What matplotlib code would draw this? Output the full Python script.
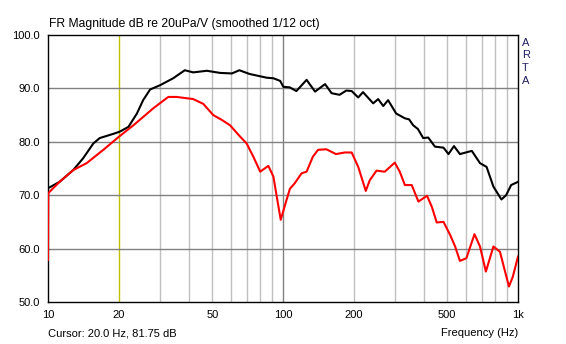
import numpy as np
import matplotlib.pyplot as plt
from matplotlib.ticker import FixedLocator, NullFormatter

plt.rcParams['font.family'] = ['Liberation Sans', 'DejaVu Sans']
plt.rcParams['font.size'] = 8

# black curve (Hz, dB)
f_black = [10, 11.2, 12.8, 14.1, 15.6, 16.6, 19.0, 20.2, 22.0, 23.9, 25.4, 27.2,
           30.0, 34.1, 36.5, 38.2, 41.5, 47.4, 54.0, 60.6, 65.2, 72.1, 85.3, 91.0,
           97.3, 100.3, 106.8, 114, 126, 136.9, 151, 161, 174, 186, 196, 209, 219,
           242, 254, 267, 280, 303, 330, 344, 358, 375, 395, 415, 443, 482, 506,
           534, 566, 636, 689, 735, 786, 850, 890, 935, 1000]
db_black = [71.3, 72.5, 74.7, 76.9, 79.7, 80.7, 81.5, 81.9, 82.8, 85.3, 87.8, 89.8,
            90.6, 91.9, 92.8, 93.4, 93.0, 93.3, 92.9, 92.8, 93.4, 92.7, 92.0, 91.9,
            91.4, 90.3, 90.2, 89.5, 91.6, 89.4, 90.8, 89.1, 88.8, 89.6, 89.5, 88.3, 89.3,
            87.2, 88.0, 86.7, 87.8, 85.3, 84.4, 84.2, 83.1, 82.4, 80.7, 80.8, 79.1, 78.9, 77.7,
            79.2, 77.7, 78.3, 76.0, 75.3, 71.6, 69.2, 70.0, 71.9, 72.5]

# red curve (Hz, dB)
f_red = [10, 10.03, 11.2, 12.8, 14.6, 17.2, 20.1, 23.1, 28.1, 32.5, 35.3, 41.5, 45.8,
         50.5, 54.9, 59.5, 65.6, 70.0, 74.8, 80.0, 86.6, 91, 94.6, 97.8, 103.5,
         107, 112, 120, 126, 134, 141, 153, 168, 183, 196, 209, 225, 234, 250,
         271, 299, 314, 330, 353, 377, 410, 430, 451, 482, 515, 540, 566, 603,
         653, 689, 730, 786, 838, 915, 950, 1000]
db_red = [57.9, 70.4, 72.5, 74.7, 76.0, 78.5, 81.0, 83.1, 86.3, 88.4, 88.4, 88.0, 87.1,
          85.0, 84.1, 83.1, 81.0, 79.7, 77.2, 74.4, 75.5, 73.5, 69.1, 65.4, 69.1,
          71.2, 72.2, 74.1, 74.4, 77.2, 78.5, 78.6, 77.7, 78.0, 78.0, 75.3, 70.8, 72.8, 74.6,
          74.4, 76.1, 74.4, 71.9, 71.9, 68.8, 69.9, 67.8, 64.9, 65.0, 62.5, 60.4, 57.7, 58.2,
          62.7, 60.4, 55.7, 60.4, 59.4, 52.9, 54.7, 58.5]

x_ticks = [10, 20, 50, 100, 200, 500, 1000]
x_labels = ['10', '20', '50', '100', '200', '500', '1k']
y_ticks = [50, 60, 70, 80, 90, 100]
y_labels = ['50.0', '60.0', '70.0', '80.0', '90.0', '100.0']
minor_freqs = [30, 40, 50, 60, 70, 80, 90, 200, 300, 400, 500, 600, 700, 800, 900]

fig = plt.figure(figsize=(5.66, 3.44), dpi=100)
ax = fig.add_axes([48 / 566, 42 / 344, 470 / 566, 267 / 344])

ax.set_xscale('log')
ax.set_xlim(10, 1000)
ax.set_ylim(50, 100)

# grid
for f in minor_freqs:
    ax.axvline(f, color='#c0c0c0', lw=1, zorder=1)
ax.axvline(100, color='#808080', lw=1, zorder=1)
ax.axvline(20, color='#c0c000', lw=1, zorder=1)
for y in [60, 70, 80, 90]:
    ax.axhline(y, color='#808080', lw=1, zorder=1)

ax.plot(f_black, db_black, color='black', lw=1.5, zorder=3)
ax.plot(f_red, db_red, color='#ff0000', lw=1.5, zorder=4)

ax.xaxis.set_minor_formatter(NullFormatter())
ax.xaxis.set_minor_locator(FixedLocator([]))
ax.set_xticks(x_ticks)
ax.set_xticklabels(x_labels)
ax.set_yticks(y_ticks)
ax.set_yticklabels(y_labels)
ax.tick_params(length=0, pad=6, labelsize=8)
for s in ax.spines.values():
    s.set_linewidth(1)
    s.set_color('black')

fig.text(49 / 566, 1 - 24 / 344, 'FR Magnitude dB re 20uPa/V (smoothed 1/12 oct)',
         ha='left', va='center', fontsize=8.7)
fig.text(48 / 566, 1 - 333 / 344, 'Cursor: 20.0 Hz, 81.75 dB', ha='left', va='center', fontsize=8)
fig.text(518 / 566, 1 - 333 / 344, 'Frequency (Hz)', ha='right', va='center', fontsize=8)
for i, ch in enumerate('ARTA'):
    fig.text(522 / 566, 1 - (43 + i * 12.5) / 344, ch, ha='left', va='center',
             fontsize=8, color='#202060')

fig.savefig('out.png', dpi=100)
